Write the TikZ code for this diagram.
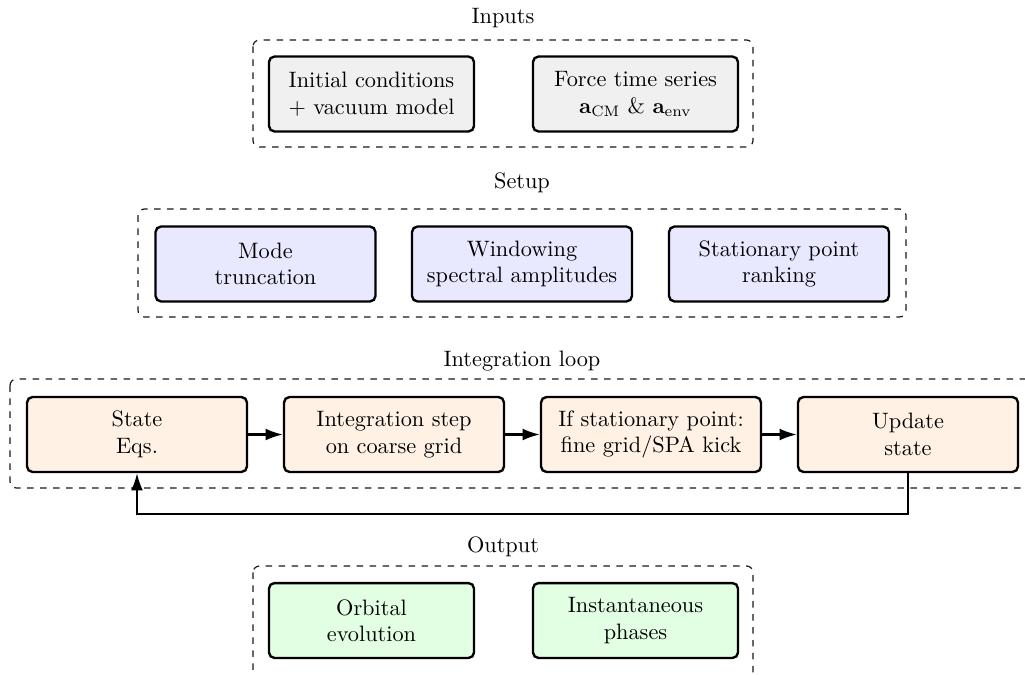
\documentclass[tikz,border=0pt]{standalone}
\usetikzlibrary{arrows.meta}
\begin{document}
\begin{tikzpicture}[x=0.462pt,y=-0.462pt,
  font=\fontsize{10.3}{12.2}\selectfont,
  box/.style={draw=black, line width=1.1pt, rounded corners=2.5pt, align=center,
    minimum width=101.6pt, minimum height=34.6pt, inner sep=2pt},
  smallbox/.style={box, minimum width=94.7pt},
  inbox/.style={smallbox, fill=black!6},
  setbox/.style={box, fill=blue!9},
  loopbox/.style={box, fill=orange!10},
  outbox/.style={smallbox, fill=green!11},
  frame/.style={draw=black!90, dashed, rounded corners=3pt, line width=0.55pt},
  title/.style={inner sep=0pt},
  flow/.style={line width=0.95pt, -{Latex[length=8pt,width=5.5pt]}}]
\useasboundingbox (0,0) rectangle (1025,675);

% Inputs
\draw[frame] (253,40) rectangle (753,147);
\node[title] (tin) at (503,18) {Inputs};
\node[inbox] (ic) at (371.5,94) {Initial conditions\\+ vacuum model};
\node[inbox] (ft) at (635.5,94) {Force time series\\$\mathbf{a}_{\mathrm{CM}}$ \& $\mathbf{a}_{\mathrm{env}}$};

% Setup
\draw[frame] (138,209) rectangle (906,317);
\node[title] (tsu) at (522,183) {Setup};
\node[setbox] (mt) at (265.5,264) {Mode\\truncation};
\node[setbox] (wsa) at (522,264) {Windowing\\spectral amplitudes};
\node[setbox] (spr) at (779,264) {Stationary point\\ranking};

% Integration loop
\draw[frame] (10,379) rectangle (1040,488);
\node[title] (tlp) at (522,361) {Integration loop};
\node[loopbox] (st) at (137,434.5) {State\\Eqs.};
\node[loopbox] (is) at (394,434.5) {Integration step\\on coarse grid};
\node[loopbox] (sp) at (651,434.5) {If stationary point:\\fine grid/SPA kick};
\node[loopbox] (us) at (908,434.5) {Update\\state};
\draw[flow] (st) -- (is);
\draw[flow] (is) -- (sp);
\draw[flow] (sp) -- (us);
\coordinate (back) at (908,514);
\draw[flow] (us.south) |- (back) -| (st.south);

% Output
\draw[frame] (253,566) rectangle (753,700);
\node[title] (tout) at (503,547) {Output};
\node[outbox] (oe) at (371.5,620.5) {Orbital\\evolution};
\node[outbox] (ip) at (635.5,620.5) {Instantaneous\\phases};
\end{tikzpicture}
\end{document}
